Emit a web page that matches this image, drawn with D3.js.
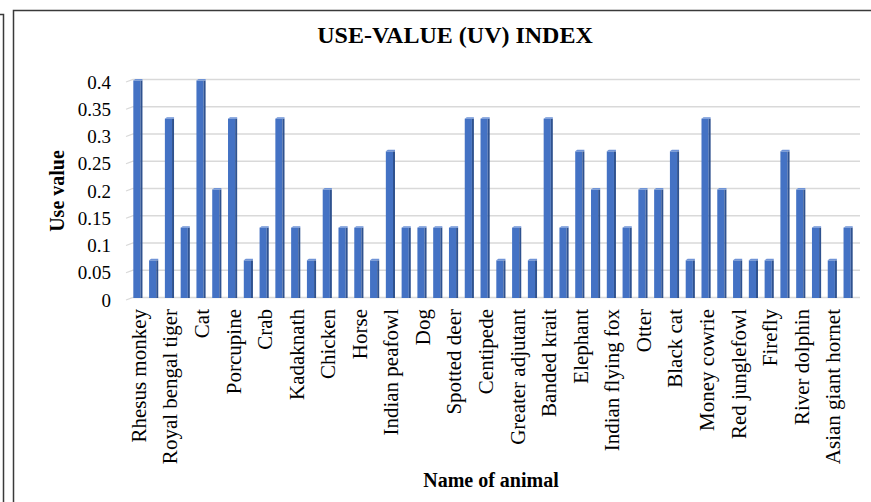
<!DOCTYPE html>
<html>
<head>
<meta charset="utf-8">
<script src="https://cdn.jsdelivr.net/npm/d3@7"></script>
<style>
  body { margin: 0; background: #fff; }
  svg { display: block; }
</style>
</head>
<body>
<svg id="chart" width="871" height="502"></svg>
<script>
// Data (46 bars, only every other one labelled)
var tickLabels = [
  'Rhesus monkey', '', 'Royal bengal tiger', '', 'Cat', '', 'Porcupine', '',
  'Crab', '', 'Kadaknath', '', 'Chicken', '', 'Horse', '', 'Indian peafowl', '',
  'Dog', '', 'Spotted deer', '', 'Centipede', '', 'Greater adjutant', '',
  'Banded krait', '', 'Elephant', '', 'Indian flying fox', '', 'Otter', '',
  'Black cat', '', 'Money cowrie', '', 'Red junglefowl', '', 'Firefly', '',
  'River dolphin', '', 'Asian giant hornet', ''
]
var useValues = [
  0.4, 0.07, 0.33, 0.13, 0.4, 0.2, 0.33, 0.07, 0.13, 0.33,
  0.13, 0.07, 0.2, 0.13, 0.13, 0.07, 0.27, 0.13, 0.13, 0.13,
  0.13, 0.33, 0.33, 0.07, 0.13, 0.07, 0.33, 0.13, 0.27, 0.2,
  0.27, 0.13, 0.2, 0.2, 0.27, 0.07, 0.33, 0.2, 0.07, 0.07,
  0.07, 0.27, 0.2, 0.13, 0.07, 0.13
]
var yTicks = [0, 0.05, 0.1, 0.15, 0.2, 0.25, 0.3, 0.35, 0.4]
var title = 'USE-VALUE (UV) INDEX'
var yTitle = 'Use value'
var xTitle = 'Name of animal'

var serif = '"Liberation Serif", "Times New Roman", serif'
var svg = d3.select('#chart')

// frames
svg.append('path')
  .attr('d', 'M0,14.5H3.5V502')
  .attr('fill', 'none').attr('stroke', '#3a3a3a').attr('stroke-width', 1.5)
svg.append('path')
  .attr('d', 'M13.5,502V10.5H871')
  .attr('fill', 'none').attr('stroke', '#3a3a3a').attr('stroke-width', 1.5)

// scales
var x = d3.scaleBand()
  .domain(d3.range(useValues.length))
  .range([130, 856])
  .paddingInner(0.42)
  .paddingOuter(0.21)
var y = d3.scaleLinear().domain([0, 0.4]).range([297, 79])

// gridlines (back wall with little 3D floor slant)
svg.append('g')
  .selectAll('path')
  .data(yTicks)
  .enter()
  .append('path')
  .attr('d', d => 'M126,' + (y(d) + 3) + 'L133,' + (y(d) + 0.5) + 'H860')
  .attr('fill', 'none')
  .attr('stroke', '#d9d9d9')
  .attr('stroke-width', 1.3)

// bars
var bars = svg.append('g')
  .selectAll('g')
  .data(useValues)
  .enter()
  .append('g')
bars.append('rect')
  .attr('x', (d, i) => x(i))
  .attr('y', d => y(d) + 1.5)
  .attr('width', x.bandwidth() - 2)
  .attr('height', d => y(0) + 1 - y(d) - 1.5)
  .attr('fill', '#4472c4')
bars.append('rect')
  .attr('x', (d, i) => x(i) + x.bandwidth() - 2)
  .attr('y', d => y(d) + 1.5)
  .attr('width', 2)
  .attr('height', d => y(0) + 1 - y(d) - 1.5)
  .attr('fill', '#2f528f')
bars.append('path')
  .attr('d', (d, i) => {
    var x0 = x(i), x1 = x(i) + x.bandwidth(), t = y(d)
    return 'M' + x0 + ',' + (t + 1.5) + 'L' + (x0 + 2) + ',' + t + 'H' + x1 + 'V' + (t + 1.5) + 'Z'
  })
  .attr('fill', '#6f93d6')

// y axis labels
var yAxis = svg.append('g')
  .attr('transform', 'translate(111,3)')
  .call(d3.axisLeft(y).tickValues(yTicks).tickSize(0).tickPadding(0).tickFormat(d3.format('')))
yAxis.select('.domain').remove()
yAxis.selectAll('text')
  .style('font-family', serif)
  .style('font-size', '19px')
  .attr('fill', '#000')

// x axis labels
var xAxis = svg.append('g')
  .attr('transform', 'translate(0,297)')
  .call(d3.axisBottom(x).tickSize(0).tickFormat(i => tickLabels[i]))
xAxis.select('.domain').remove()
xAxis.selectAll('text')
  .style('font-family', serif)
  .style('font-size', '21px')
  .attr('fill', '#000')
  .attr('text-anchor', 'end')
  .attr('transform', 'rotate(-90)')
  .attr('x', -12)
  .attr('y', x.bandwidth() / 2 - 4)
  .attr('dy', '0.35em')

// titles
svg.append('text')
  .attr('x', 455).attr('y', 43)
  .attr('text-anchor', 'middle')
  .style('font-family', serif)
  .style('font-size', '24px').style('font-weight', 'bold')
  .text(title)
svg.append('text')
  .attr('transform', 'translate(64,191) rotate(-90)')
  .attr('text-anchor', 'middle')
  .style('font-family', serif)
  .style('font-size', '20px').style('font-weight', 'bold')
  .text(yTitle)
svg.append('text')
  .attr('x', 491).attr('y', 487)
  .attr('text-anchor', 'middle')
  .style('font-family', serif)
  .style('font-size', '20px').style('font-weight', 'bold')
  .text(xTitle)
</script>
</body>
</html>
